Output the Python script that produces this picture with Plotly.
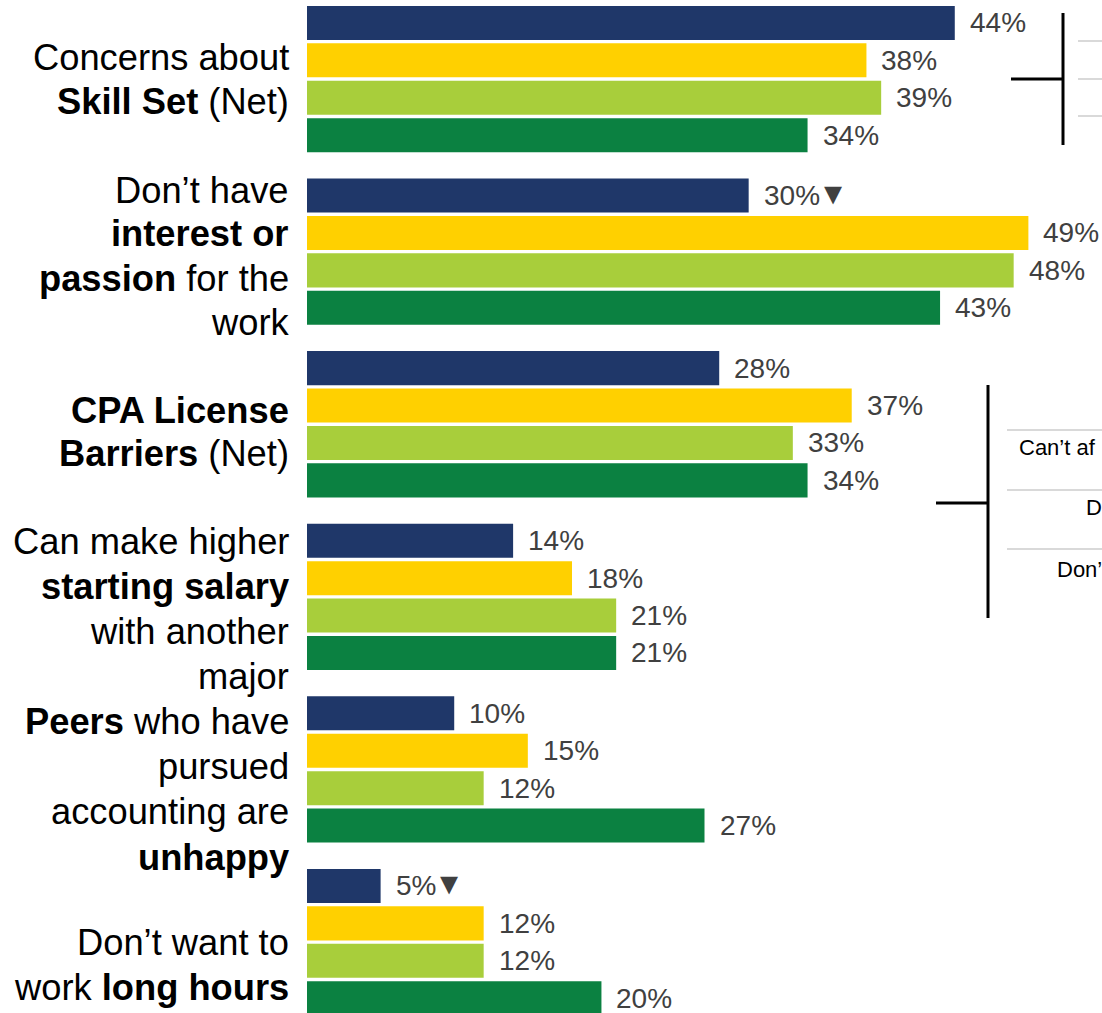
import plotly.graph_objects as go

# Reasons for not pursuing accounting, four respondent segments
categories = [
    "Concerns about Skill Set (Net)",
    "Don't have interest or passion for the work",
    "CPA License Barriers (Net)",
    "Can make higher starting salary with another major",
    "Peers who have pursued accounting are unhappy",
    "Don't want to work long hours",
]
label_lines = [
    ["Concerns about", "<b>Skill Set</b> (Net)"],
    ["Don’t have", "<b>interest or</b>", "<b>passion</b> for the", "work"],
    ["<b>CPA License</b>", "<b>Barriers</b> (Net)"],
    ["Can make higher", "<b>starting salary</b>", "with another", "major"],
    ["<b>Peers</b> who have", "pursued", "accounting are", "<b>unhappy</b>"],
    ["Don’t want to", "work <b>long hours</b>"],
]
series_names = ["Segment 1", "Segment 2", "Segment 3", "Segment 4"]
series_values = [
    [44, 30, 28, 14, 10, 5],
    [38, 49, 37, 18, 15, 12],
    [39, 48, 33, 21, 12, 12],
    [34, 43, 34, 21, 27, 20],
]
# significantly lower than comparison group
sig_lower = [
    [False, True, False, False, False, True],
    [False] * 6,
    [False] * 6,
    [False] * 6,
]
colors = ["#1F3769", "#FFD000", "#A8CE3B", "#0B8141"]

# sub-item labels of the CPA License breakdown, at the right edge
side_texts = ["Can’t af", "D", "Don’"]

W, H = 1102, 1013
L = 307
BARGAP = 0.133
N_SERIES = len(series_values)
FONT = "Liberation Sans, Arial, sans-serif"

fig = go.Figure()
for name, vals, col in zip(series_names, series_values, colors):
    fig.add_trace(go.Bar(
        y=categories, x=vals, name=name, orientation="h",
        marker=dict(color=col, line=dict(width=0)),
        showlegend=False, hoverinfo="x+name",
    ))


def px_x(px):
    return (px - L) / (W - L)


def px_y(py):
    return 1 - py / H


annotations = []

# value labels beside each bar
slot = (1 - BARGAP) / N_SERIES
for i, vals in enumerate(series_values):
    for k, v in enumerate(vals):
        txt = f"{v}%"
        shift = 0
        if sig_lower[i][k]:
            txt += "<span style='font-size:14px'>\u00a0</span><span style='font-size:36px'>▾</span>"
            shift = 3
        annotations.append(dict(
            x=v, y=k + (i - (N_SERIES - 1) / 2) * slot,
            xref="x", yref="y", text=txt, showarrow=False,
            xanchor="left", yanchor="middle", xshift=13, yshift=shift,
            font=dict(family=FONT, size=28, color="#404040"),
        ))

# category labels, one annotation per line, right-aligned against the bars
line_centers = [
    [57, 102],
    [190, 234, 278, 322],
    [410, 454],
    [541, 586, 631, 676],
    [721, 766, 811, 857],
    [942, 987],
]
for lines, ys in zip(label_lines, line_centers):
    for txt, yc in zip(lines, ys):
        annotations.append(dict(
            x=px_x(291), y=px_y(yc), xref="paper", yref="paper",
            text=txt, showarrow=False, xanchor="right", yanchor="middle",
            font=dict(family=FONT, size=36.3, color="#000000"),
        ))

for txt, x0, yc in zip(side_texts, (1017, 1084, 1055), (447, 507, 569)):
    annotations.append(dict(
        x=px_x(x0), y=px_y(yc), xref="paper", yref="paper",
        text=txt, showarrow=False, xanchor="left", yanchor="middle",
        font=dict(family=FONT, size=22, color="#000000"),
    ))

shapes = []


def line(x0, y0, x1, y1, color, width):
    shapes.append(dict(
        type="line", xref="paper", yref="paper",
        x0=px_x(x0), y0=px_y(y0), x1=px_x(x1), y1=px_y(y1),
        line=dict(color=color, width=width),
    ))


# bracket for Skill Set net
line(1063, 13, 1063, 145, "#000000", 3)
line(1011, 79, 1063, 79, "#000000", 3)
for yy in (41, 79, 116):
    line(1078, yy, 1102, yy, "#D9D9D9", 2)

# bracket for CPA License net
line(988, 385, 988, 618, "#000000", 3)
line(936, 503, 988, 503, "#000000", 3)
for yy in (430, 490, 549):
    line(1007, yy, 1102, yy, "#D9D9D9", 2)

fig.update_layout(
    width=W, height=H,
    margin=dict(l=L, r=0, t=0, b=0),
    paper_bgcolor="white", plot_bgcolor="white",
    barmode="group", bargap=BARGAP, bargroupgap=0.09,
    xaxis=dict(range=[0, 54], visible=False, showgrid=False, zeroline=False),
    yaxis=dict(type="category", range=[5.411, -0.458], visible=False,
               showgrid=False, zeroline=False),
    annotations=annotations, shapes=shapes,
    font=dict(family=FONT),
)

fig.write_html("out.html")
